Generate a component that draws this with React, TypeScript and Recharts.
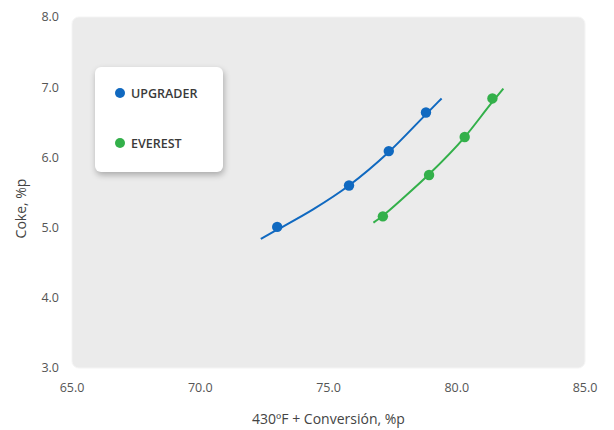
import React from 'react';
import { ComposedChart, Scatter, Line, XAxis, YAxis, CartesianGrid, ReferenceArea } from 'recharts';

const xTicks = [65, 70, 75, 80, 85];
const yTicks = [3, 4, 5, 6, 7, 8];

const upgraderX = [73.0, 75.8, 77.35, 78.8];
const upgraderY = [5.01, 5.6, 6.09, 6.64];
const everestX = [77.12, 78.92, 80.31, 81.39];
const everestY = [5.16, 5.75, 6.29, 6.84];

// trend lines
const upgraderFitX = [72.36, 73.0, 74.4, 75.8, 77.33, 78.79, 79.41];
const upgraderFitY = [4.84, 4.97, 5.26, 5.6, 6.07, 6.61, 6.84];
const everestFitX = [76.75, 77.12, 78.0, 78.92, 80.31, 81.39, 81.82];
const everestFitY = [5.07, 5.17, 5.45, 5.76, 6.29, 6.79, 6.98];

const BLUE = '#1069c0';
const GREEN = '#33b04a';

const zip = (xs: number[], ys: number[]) => xs.map((x, i) => ({ x, y: ys[i] }));

const upgrader = zip(upgraderX, upgraderY);
const everest = zip(everestX, everestY);
const upgraderFit = zip(upgraderFitX, upgraderFitY);
const everestFit = zip(everestFitX, everestFitY);

const font = '"Open Sans", "Noto Sans", sans-serif';

const legendItems = [
  { name: 'UPGRADER', color: BLUE, top: 26 },
  { name: 'EVEREST', color: GREEN, top: 76 },
];

const LegendBox = () => (
  <div
    style={{
      position: 'absolute',
      left: 95,
      top: 67,
      width: 128,
      height: 105,
      background: '#fff',
      borderRadius: 6,
      boxShadow: '1px 3px 6px rgba(0,0,0,0.28)',
      fontFamily: font,
      fontSize: 12.5,
      fontWeight: 600,
      color: '#3a3a3a',
    }}
  >
    {legendItems.map((e) => (
      <div key={e.name} style={{ position: 'absolute', left: 20, top: e.top - 9, display: 'flex', alignItems: 'center', height: 18 }}>
        <span style={{ display: 'inline-block', width: 10, height: 10, borderRadius: 5, background: e.color, marginRight: 6 }} />
        <span>{e.name}</span>
      </div>
    ))}
  </div>
);

const Dot = (props: any) => {
  const { cx, cy, fill } = props;
  if (cx == null || cy == null) return null;
  return <circle cx={cx} cy={cy} r={5.2} fill={fill} />;
};

const PlotBg = (props: any) => {
  const { x, y, width, height } = props;
  return <rect x={x} y={y} width={width} height={height} rx={7} ry={7} fill="#ebebeb" stroke="#f4f4f4" strokeWidth={1} />;
};

const YLabel = (props: any) => {
  const vb = props.viewBox || {};
  const cx = 20;
  const cy = (vb.y || 0) + (vb.height || 0) / 2 + 16;
  return (
    <text x={cx} y={cy} transform={`rotate(-90, ${cx}, ${cy})`} textAnchor="middle" dominantBaseline="central" fill="#444" fontSize={14} fontFamily={font}>
      Coke, %p
    </text>
  );
};

export default function App() {
  return (
    <div style={{ position: 'absolute', left: 0, top: 0, width: 614, height: 430, background: '#fff' }}>
      <ComposedChart width={614} height={430} margin={{ top: 17, right: 29, left: 0, bottom: 0 }}>
        <ReferenceArea x1={65} x2={85} y1={3} y2={8} shape={<PlotBg />} />
        <CartesianGrid vertical={false} horizontal={true} horizontalValues={[4, 5, 6, 7]} stroke="#ffffff" strokeWidth={2} />
        <XAxis
          type="number"
          dataKey="x"
          domain={[65, 85]}
          ticks={xTicks}
          allowDuplicatedCategory={false}
          tickFormatter={(v: number) => v.toFixed(1)}
          axisLine={false}
          tickLine={false}
          tickMargin={9}
          height={62}
          tick={{ fill: '#555', fontSize: 12.5, fontFamily: font }}
          label={{ value: '430ºF + Conversión, %p', position: 'insideBottom', offset: 6, fill: '#444', fontSize: 14, fontFamily: font }}
        />
        <YAxis
          type="number"
          dataKey="y"
          domain={[3, 8]}
          ticks={yTicks}
          tickFormatter={(v: number) => v.toFixed(1)}
          axisLine={false}
          tickLine={false}
          tickMargin={7}
          width={72}
          tick={{ fill: '#555', fontSize: 12.5, fontFamily: font }}
          label={<YLabel />}
        />
        <Line data={upgraderFit} dataKey="y" type="monotone" stroke={BLUE} strokeWidth={2} dot={false} activeDot={false} isAnimationActive={false} />
        <Line data={everestFit} dataKey="y" type="monotone" stroke={GREEN} strokeWidth={2} dot={false} activeDot={false} isAnimationActive={false} />
        <Scatter name="UPGRADER" data={upgrader} dataKey="y" fill={BLUE} shape={<Dot />} isAnimationActive={false} />
        <Scatter name="EVEREST" data={everest} dataKey="y" fill={GREEN} shape={<Dot />} isAnimationActive={false} />
      </ComposedChart>
      <LegendBox />
    </div>
  );
}
